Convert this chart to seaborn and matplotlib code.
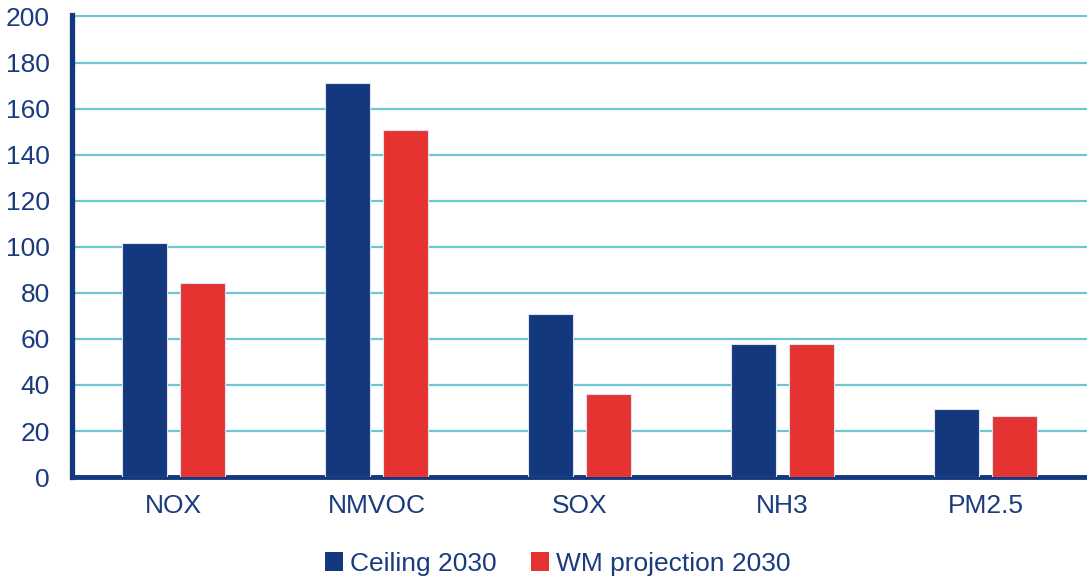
import pandas as pd
import matplotlib.pyplot as plt
import seaborn as sns
from matplotlib.patches import Patch

# Data
pollutants = ['NOX', 'NMVOC', 'SOX', 'NH3', 'PM2.5']
ceiling_2030 = [101.7, 171.2, 70.8, 58.0, 29.5]
wm_projection_2030 = [84.4, 150.5, 36.0, 58.0, 26.5]
series_names = ['Ceiling 2030', 'WM projection 2030']

NAVY = '#14387d'
RED = '#e53332'
GRID = '#6fc5d2'
TEXT = '#1a3b7e'

df = pd.DataFrame({
    'Pollutant': pollutants * 2,
    'Value': ceiling_2030 + wm_projection_2030,
    'Series': [series_names[0]] * len(pollutants) + [series_names[1]] * len(pollutants),
})

sns.set_style('white')
plt.rcParams['font.family'] = ['Liberation Sans', 'DejaVu Sans']

fig = plt.figure(figsize=(10.87, 5.79), dpi=100)
ax = fig.add_axes([0.0662, 0.176, 0.9338, 0.798])

sns.barplot(data=df, x='Pollutant', y='Value', hue='Series', order=pollutants,
            palette=[NAVY, RED], saturation=1, width=0.571, gap=0.22, dodge=True,
            edgecolor='#dfe3ee', linewidth=0.8, legend=False, ax=ax, zorder=3)

ax.set_xlim(-0.5, len(pollutants) - 0.5)
ax.set_ylim(0, 200.6)
ax.set_yticks(range(0, 201, 20))
ax.yaxis.grid(True, color=GRID, linewidth=1.6, zorder=0)
ax.set_axisbelow(True)
ax.set_xlabel('')
ax.set_ylabel('')

for side in ['top', 'right']:
    ax.spines[side].set_visible(False)
ax.spines['left'].set_color(NAVY)
ax.spines['left'].set_linewidth(3.8)
ax.spines['bottom'].set_color(NAVY)
ax.spines['bottom'].set_linewidth(3.5)

ax.tick_params(axis='both', length=0, labelsize=19, labelcolor=TEXT)
ax.tick_params(axis='y', pad=16)
ax.tick_params(axis='x', pad=12)

handles = [Patch(facecolor=NAVY, edgecolor='none'), Patch(facecolor=RED, edgecolor='none')]
fig.legend(handles, series_names, loc='center', bbox_to_anchor=(0.513, 0.026),
           ncol=2, frameon=False, fontsize=19, labelcolor=TEXT,
           handlelength=0.7, handleheight=0.7, handletextpad=0.25, columnspacing=1.3)

fig.savefig('out.png', dpi=100)
